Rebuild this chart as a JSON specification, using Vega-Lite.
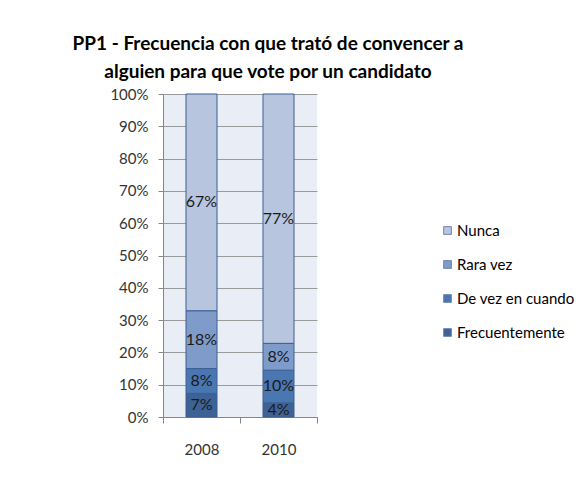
{
  "$schema": "https://vega.github.io/schema/vega-lite/v6.json",
  "width": 154,
  "height": 323,
  "autosize": {"type": "none"},
  "padding": {"left": 163, "top": 94, "right": 268, "bottom": 62},
  "background": "white",
  "title": {
    "text": ["PP1 - Frecuencia con que trató de convencer a", "alguien para que vote por un candidato"],
    "font": "Lato",
    "fontSize": 19,
    "fontWeight": "bold",
    "color": "#000000",
    "anchor": "middle",
    "frame": "group",
    "dx": 28,
    "lineHeight": 28,
    "offset": 5
  },
  "data": {
    "values": [
      {"anio": "2008", "categoria": "Frecuentemente", "orden": 1, "valor": 0.073},
      {"anio": "2008", "categoria": "De vez en cuando", "orden": 2, "valor": 0.077},
      {"anio": "2008", "categoria": "Rara vez", "orden": 3, "valor": 0.179},
      {"anio": "2008", "categoria": "Nunca", "orden": 4, "valor": 0.671},
      {"anio": "2010", "categoria": "Frecuentemente", "orden": 1, "valor": 0.044},
      {"anio": "2010", "categoria": "De vez en cuando", "orden": 2, "valor": 0.101},
      {"anio": "2010", "categoria": "Rara vez", "orden": 3, "valor": 0.083},
      {"anio": "2010", "categoria": "Nunca", "orden": 4, "valor": 0.772}
    ]
  },
  "config": {
    "view": {"fill": "#e9edf5", "stroke": null},
    "font": "Lato"
  },
  "encoding": {
    "x": {
      "field": "anio",
      "type": "nominal",
      "title": null,
      "scale": {"paddingInner": 0, "paddingOuter": 0},
      "axis": {
        "labelAngle": 0,
        "labelFont": "Lato",
        "labelFontSize": 15,
        "labelColor": "#333333",
        "labelPadding": 19,
        "tickBand": "extent",
        "tickColor": "#868686",
        "tickSize": 6,
        "domainColor": "#868686",
        "grid": false
      }
    },
    "y": {
      "field": "valor",
      "type": "quantitative",
      "stack": "zero",
      "title": null,
      "scale": {"domain": [0, 1]},
      "axis": {
        "format": ".0%",
        "values": [0, 0.1, 0.2, 0.3, 0.4, 0.5, 0.6, 0.7, 0.8, 0.9, 1],
        "labelFont": "Lato",
        "labelFontSize": 15,
        "labelColor": "#333333",
        "labelPadding": 10,
        "tickColor": "#868686",
        "tickSize": 5,
        "domainColor": "#868686",
        "gridColor": "#9a9a9a",
        "gridWidth": 1
      }
    },
    "order": {"field": "orden", "type": "quantitative", "sort": "ascending"}
  },
  "layer": [
    {
      "mark": {"type": "bar", "size": 31, "stroke": "#3d5f92", "strokeWidth": 1},
      "encoding": {
        "color": {
          "field": "categoria",
          "type": "nominal",
          "scale": {
            "domain": ["Nunca", "Rara vez", "De vez en cuando", "Frecuentemente"],
            "range": ["#b8c5df", "#7f9bc9", "#4a76b2", "#3d6296"]
          },
          "legend": {
            "title": null,
            "orient": "none",
            "legendX": 277,
            "legendY": 129,
            "symbolType": "square",
            "symbolSize": 60,
            "symbolStrokeColor": "#6f86ad",
            "symbolStrokeWidth": 1,
            "labelFont": "Lato",
            "labelFontSize": 15,
            "labelColor": "#000000",
            "labelOffset": 2,
            "labelLimit": 200,
            "rowPadding": 18
          }
        }
      }
    },
    {
      "mark": {"type": "text", "font": "Lato", "fontSize": 16, "color": "#1a1a1a", "baseline": "middle"},
      "encoding": {
        "y": {"field": "valor", "type": "quantitative", "stack": "zero", "bandPosition": 0.5},
        "text": {"field": "valor", "type": "quantitative", "format": ".0%"},
        "detail": {"field": "categoria", "type": "nominal"}
      }
    }
  ]
}
